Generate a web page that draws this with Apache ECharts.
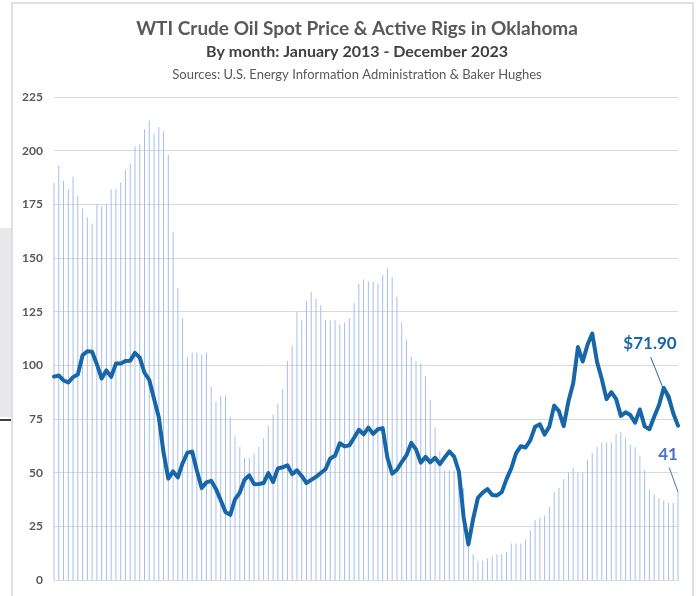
<!DOCTYPE html>
<html>
<head>
<meta charset="utf-8">
<script src="https://cdn.jsdelivr.net/npm/echarts@6/dist/echarts.min.js"></script>
<style>
html,body{margin:0;padding:0;background:#fff;}
#chart{width:698px;height:596px;}
</style>
</head>
<body>
<div id="chart"></div>
<script>
// Months Jan 2013 - Dec 2023
const years = [2013,2014,2015,2016,2017,2018,2019,2020,2021,2022,2023];
const monthNames = ['Jan','Feb','Mar','Apr','May','Jun','Jul','Aug','Sep','Oct','Nov','Dec'];
const months = [];
years.forEach(y => monthNames.forEach(m => months.push(m + ' ' + y)));

// Active rigs in Oklahoma (Baker Hughes), monthly
const rigs2013 = [185,193,186,182,188,179,173,169,166,175,174,175];
const rigs2014 = [182,182,185,191,194,202,203,210,214,208,211,209];
const rigs2015 = [198,162,136,122,104,106,106,105,106,90,83,86];
const rigs2016 = [86,76,67,62,57,57,59,62,66,72,77,82];
const rigs2017 = [89,102,109,125,121,130,134,131,128,121,121,121];
const rigs2018 = [119,120,122,129,138,140,139,139,138,142,145,141];
const rigs2019 = [132,120,112,104,102,101,95,84,71,60,51,51];
const rigs2020 = [51,44,43,20,12,9,9,10,11,12,12,13];
const rigs2021 = [17,17,17,19,23,28,29,30,34,41,43,47];
const rigs2022 = [50,52,50,50,56,59,62,64,64,64,68,69];
const rigs2023 = [66,63,62,58,51,42,40,38,37,36,36,41];
const rigs = [].concat(rigs2013,rigs2014,rigs2015,rigs2016,rigs2017,rigs2018,rigs2019,rigs2020,rigs2021,rigs2022,rigs2023);

// WTI crude oil spot price (EIA), monthly average, $/barrel
const wti2013 = [94.76,95.31,92.94,92.02,94.51,95.77,104.67,106.57,106.29,100.54,93.86,97.63];
const wti2014 = [94.62,100.82,100.80,102.07,102.18,105.79,103.59,96.54,93.21,84.40,75.79,59.29];
const wti2015 = [47.22,50.58,47.82,54.45,59.27,59.82,50.90,42.87,45.48,46.22,42.44,37.19];
const wti2016 = [31.68,30.32,37.55,40.75,46.71,48.76,44.65,44.72,45.18,49.78,45.66,51.97];
const wti2017 = [52.50,53.47,49.33,51.06,48.48,45.18,46.63,48.04,49.82,51.58,56.64,57.88];
const wti2018 = [63.70,62.23,62.73,66.25,69.98,67.87,70.98,68.06,70.23,70.75,56.96,49.52];
const wti2019 = [51.38,54.95,58.15,63.86,60.83,54.66,57.35,54.81,56.95,53.96,57.03,59.88];
const wti2020 = [57.52,50.54,29.21,16.55,28.56,38.31,40.71,42.34,39.63,39.40,40.94,47.02];
const wti2021 = [52.00,59.04,62.33,61.72,65.17,71.38,72.49,67.73,71.54,81.22,78.65,71.71];
const wti2022 = [83.22,91.64,108.50,101.78,109.55,114.84,101.62,93.67,84.26,87.55,84.37,76.44];
const wti2023 = [78.12,76.83,73.28,79.45,71.58,70.25,76.07,81.39,89.43,85.64,77.69,71.90];
const wti = [].concat(wti2013,wti2014,wti2015,wti2016,wti2017,wti2018,wti2019,wti2020,wti2021,wti2022,wti2023);

const yTicks = [0,25,50,75,100,125,150,175,200,225];

const titleText = 'WTI Crude Oil Spot Price & Active Rigs in Oklahoma';
const subtitleText = 'By month: January 2013 - December 2023';
const sourceText = 'Sources: U.S. Energy Information Administration & Baker Hughes';
const priceLabel = '$71.90';
const rigLabel = '41';

const FONT = 'Lato, "Open Sans", sans-serif';
const LINE_COLOR = '#1766a8';
const BAR_COLOR = '#a6bfea';
const RIG_LABEL_COLOR = '#4a72c6';

const chart = echarts.init(document.getElementById('chart'), null, {renderer:'canvas'});

const option = {
  backgroundColor: '#ffffff',
  animation: false,
  title: [
    {text: titleText, left: 352, top: 14, textAlign: 'center',
     textStyle: {fontFamily: FONT, fontSize: 19, fontWeight: 'bold', color: '#595959'}},
    {text: subtitleText, left: 352, top: 39, textAlign: 'center',
     textStyle: {fontFamily: FONT, fontSize: 16, fontWeight: 'bold', color: '#404040'}},
    {text: sourceText, left: 352, top: 63, textAlign: 'center',
     textStyle: {fontFamily: FONT, fontSize: 13, fontWeight: 'normal', color: '#595959'}}
  ],
  grid: {left: 54, right: 20, top: 97, bottom: 16, containLabel: false},
  xAxis: {
    type: 'category',
    data: months,
    boundaryGap: false,
    axisLine: {show: true, lineStyle: {color: '#d9d9d9', width: 1}},
    axisTick: {show: false},
    axisLabel: {show: false},
    splitLine: {show: false}
  },
  yAxis: {
    type: 'value',
    min: yTicks[0],
    max: yTicks[yTicks.length - 1],
    interval: 25,
    axisLine: {show: false},
    axisTick: {show: false},
    axisLabel: {margin: 11, fontFamily: FONT, fontSize: 12, fontWeight: 'bold', color: '#595959'},
    splitLine: {show: true, lineStyle: {color: '#d9d9d9', width: 1}}
  },
  series: [
    {
      name: 'Active rigs',
      type: 'bar',
      data: rigs,
      barWidth: 1,
      itemStyle: {color: BAR_COLOR},
      z: 1
    },
    {
      name: 'WTI',
      type: 'line',
      data: wti,
      showSymbol: false,
      symbol: 'none',
      lineStyle: {color: LINE_COLOR, width: 4, join: 'round', cap: 'round'},
      z: 3
    }
  ]
};
chart.setOption(option);

// Annotations positioned from the library's own coordinate conversion
const lastIdx = months.length - 1;
const pPrice = chart.convertToPixel({seriesIndex: 1}, [lastIdx, wti[lastIdx]]);
const pRig = chart.convertToPixel({seriesIndex: 0}, [lastIdx, rigs[lastIdx]]);

chart.setOption({
  graphic: [
    // outer frame
    {type: 'rect', shape: {x: 12, y: 3, width: 681, height: 620}, silent: true,
     style: {fill: null, stroke: '#d6d6d6', lineWidth: 1.5}, z: -10},
    // left grey patch and dark line
    {type: 'rect', shape: {x: 0, y: 228, width: 11, height: 189}, silent: true,
     style: {fill: '#e8e8ea'}, z: -10},
    {type: 'rect', shape: {x: 0, y: 419, width: 11, height: 2}, silent: true,
     style: {fill: '#3f3f3f'}, z: -10},
    // price annotation
    {type: 'line', shape: {x1: pPrice[0] - 27.3, y1: pPrice[1] - 68.5, x2: pPrice[0], y2: pPrice[1]},
     style: {stroke: LINE_COLOR, lineWidth: 1}, z: 5},
    {type: 'text', x: pPrice[0] - 28, y: pPrice[1] - 82, silent: true,
     style: {text: priceLabel, fontFamily: FONT, fontSize: 17, fontWeight: 'bold', fill: LINE_COLOR,
             align: 'center', verticalAlign: 'middle'}, z: 5},
    // rig annotation
    {type: 'line', shape: {x1: pRig[0] - 8.8, y1: pRig[1] - 24.5, x2: pRig[0], y2: pRig[1]},
     style: {stroke: RIG_LABEL_COLOR, lineWidth: 1}, z: 5},
    {type: 'text', x: pRig[0] - 10, y: pRig[1] - 37, silent: true,
     style: {text: rigLabel, fontFamily: FONT, fontSize: 17, fontWeight: 'bold', fill: RIG_LABEL_COLOR,
             align: 'center', verticalAlign: 'middle'}, z: 5}
  ]
});
</script>
</body>
</html>
